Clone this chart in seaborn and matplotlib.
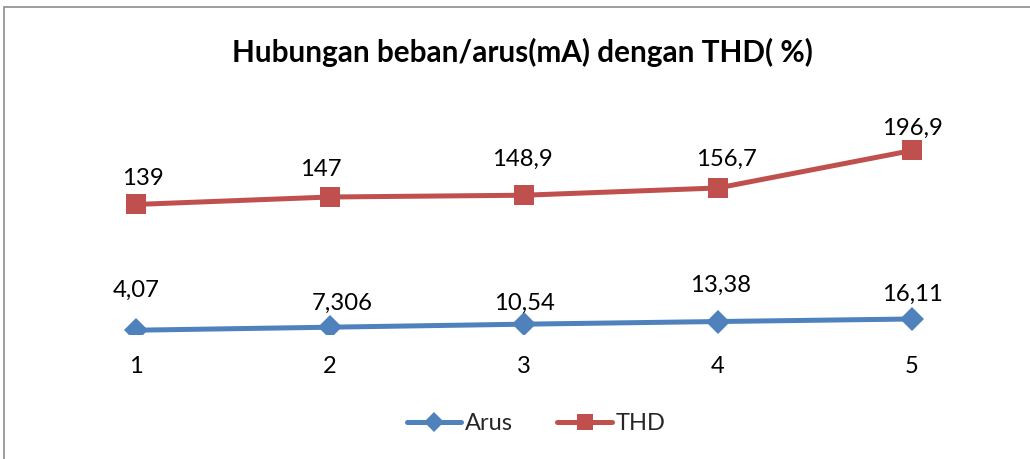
import matplotlib
matplotlib.use("Agg")
import matplotlib.pyplot as plt
import seaborn as sns
import pandas as pd
from matplotlib.patches import Rectangle
from matplotlib.lines import Line2D

categories = ["1", "2", "3", "4", "5"]
arus = [4.07, 7.306, 10.54, 13.38, 16.11]
thd = [139, 147, 148.9, 156.7, 196.9]
arus_labels = ["4,07", "7,306", "10,54", "13,38", "16,11"]
thd_labels = ["139", "147", "148,9", "156,7", "196,9"]
title = "Hubungan beban/arus(mA) dengan THD( %)"

# label offsets in pixels (dx, dy)
arus_off = [(0, 40), (12, 24), (0, 21), (3, 36), (0, 25)]
thd_off = [(7, 26), (-9, 27), (-2, 36), (8, 29), (0, 22)]

sns.set_theme(style="white")
plt.rcParams['font.family'] = ['Lato', 'DejaVu Sans']

blue = "#4F81BD"
red = "#C0504D"

fig = plt.figure(figsize=(10.30, 4.59), dpi=100)
W, H = 1030, 459
ax = fig.add_axes([39 / W, (H - 334) / H, (1009 - 39) / W, (334 - 101) / H])

df = pd.DataFrame({
    "x": list(range(len(categories))) * 2,
    "value": arus + thd,
    "series": ["Arus"] * len(arus) + ["THD"] * len(thd),
})

LW = 3.6
sns.lineplot(data=df[df.series == "Arus"], x="x", y="value", ax=ax, color=blue,
             marker="D", markersize=12.5, markeredgewidth=0, linewidth=LW, legend=False)
sns.lineplot(data=df[df.series == "THD"], x="x", y="value", ax=ax, color=red,
             marker="s", markersize=14, markeredgewidth=0, linewidth=LW, legend=False)

ax.set_xlim(-0.5, len(categories) - 0.5)
ax.set_ylim(0, 250)
ax.set_xticks(range(len(categories)))
ax.set_xticklabels(categories, fontsize=17, color="black")
ax.tick_params(axis="x", length=0, pad=16)
ax.set_yticks([])
ax.set_xlabel("")
ax.set_ylabel("")
for s in ax.spines.values():
    s.set_visible(False)

for i, (v, lab) in enumerate(zip(arus, arus_labels)):
    dx, dy = arus_off[i]
    ax.annotate(lab, (i, v), xytext=(dx * 0.72, dy * 0.72), textcoords="offset points",
                ha="center", va="center", fontsize=17.2, color="black")
for i, (v, lab) in enumerate(zip(thd, thd_labels)):
    dx, dy = thd_off[i]
    ax.annotate(lab, (i, v), xytext=(dx * 0.72, dy * 0.72), textcoords="offset points",
                ha="center", va="center", fontsize=17.2, color="black")

fig.text(522 / W, 1 - 52 / H, title, ha="center", va="center",
         fontsize=21.4, fontweight="bold", color="black")

handles = [
    Line2D([], [], color=blue, marker="D", markersize=10, markeredgewidth=0, linewidth=LW),
    Line2D([], [], color=red, marker="s", markersize=12, markeredgewidth=0, linewidth=LW),
]
fig.legend(handles, ["Arus", "THD"], loc="center", bbox_to_anchor=(536 / W, 1 - 424 / H),
           ncol=2, frameon=False, fontsize=17, handlelength=2.3, handletextpad=0.15,
           columnspacing=1.9)

fig.patches.append(Rectangle((4 / W, -0.05), 1.1, 1 - 7 / H + 0.05, transform=fig.transFigure,
                             fill=False, edgecolor="#8c8c8c", linewidth=1.2))

fig.savefig("out.png", dpi=100)
